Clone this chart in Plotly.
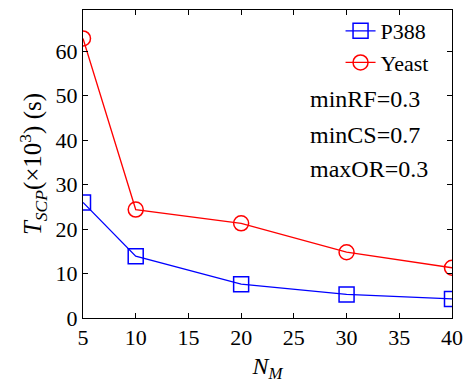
import plotly.graph_objects as go

x_vals = [5, 10, 20, 30, 40]
p388 = [26.0, 13.9, 7.6, 5.3, 4.3]
yeast = [62.9, 24.4, 21.3, 14.8, 11.3]
x_ticks = [5, 10, 15, 20, 25, 30, 35, 40]
y_ticks = [0, 10, 20, 30, 40, 50, 60]
notes = ["minRF=0.3", "minCS=0.7", "maxOR=0.3"]
note_y = [0.71, 0.594, 0.484]

FONT = "Times New Roman, Liberation Serif, serif"
FS = 22
f = dict(family=FONT, size=FS, color="black")

fig = go.Figure()
fig.add_trace(go.Scatter(x=x_vals, y=p388, name="P388", mode="lines+markers",
                         line=dict(color="blue", width=1.3),
                         marker=dict(symbol="square-open", size=15, color="blue", line=dict(width=1.5))))
fig.add_trace(go.Scatter(x=x_vals, y=yeast, name="Yeast", mode="lines+markers",
                         line=dict(color="red", width=1.3),
                         marker=dict(symbol="circle-open", size=15, color="red", line=dict(width=1.5))))

for t, yy in zip(notes, note_y):
    fig.add_annotation(text=t, xref="paper", yref="paper", x=0.61, y=yy,
                       xanchor="left", yanchor="middle", showarrow=False,
                       font=dict(family=FONT, size=24, color="black"))

fig.update_layout(
    width=466, height=383,
    margin=dict(l=83, r=14, t=10, b=65),
    paper_bgcolor="white", plot_bgcolor="white",
    font=f,
    showlegend=True,
    legend=dict(x=0.95, y=1.0, xanchor="right", yanchor="top",
                bgcolor="rgba(0,0,0,0)", font=dict(family=FONT, size=22, color="black"),
                itemwidth=30, tracegroupgap=0),
    xaxis=dict(range=[5, 40], tickvals=x_ticks, ticks="inside", ticklen=5,
               showline=True, linecolor="black", linewidth=1, mirror="ticks",
               showgrid=False, zeroline=False, tickcolor="black", tickfont=f,
               automargin=False,
               title=dict(text="<i>N</i><sub><i>M</i></sub>", standoff=8,
                          font=dict(family=FONT, size=24, color="black"))),
    yaxis=dict(range=[0, 69.3], tickvals=y_ticks, ticks="inside", ticklen=5,
               showline=True, linecolor="black", linewidth=1, mirror="ticks",
               showgrid=False, zeroline=False, tickcolor="black", tickfont=f,
               automargin=False,
               title=dict(text="<i>T</i><sub><i>SCP</i></sub>(×10<sup>3</sup>) (s)", standoff=6,
                          font=dict(family=FONT, size=25, color="black"))),
)

fig.write_html("out.html", config={"displayModeBar": False},
               post_script="document.body.style.margin='0';document.body.style.padding='0';")
